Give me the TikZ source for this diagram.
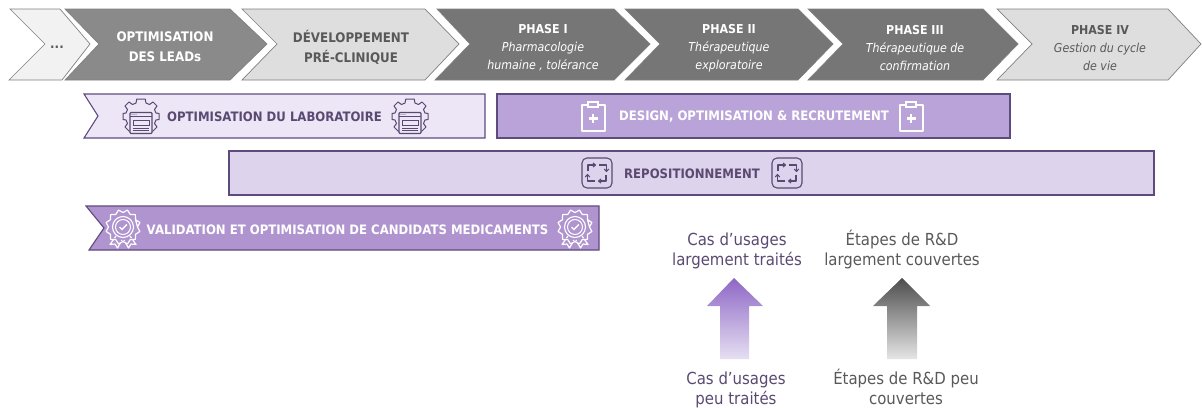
\documentclass[tikz,border=0pt]{standalone}
\usepackage{fontspec}
\setmainfont{DejaVu Sans}
\newfontfamily\tah[FakeStretch=0.9]{DejaVu Sans}
\usetikzlibrary{calc}
\definecolor{dk}{HTML}{767676}
\definecolor{md}{HTML}{8A8A8A}
\definecolor{lt}{HTML}{DEDEDE}
\definecolor{xl}{HTML}{F2F2F2}
\definecolor{edgeg}{HTML}{808080}
\definecolor{txg}{HTML}{595959}
\definecolor{pedge}{HTML}{5E4B7E}
\definecolor{plab}{HTML}{ECE6F6}
\definecolor{pdes}{HTML}{B9A3D8}
\definecolor{prep}{HTML}{DDD3EC}
\definecolor{pval}{HTML}{B094D0}
\definecolor{ptxt}{HTML}{5A4A72}
\definecolor{parr}{HTML}{8E67C6}
\definecolor{parl}{HTML}{E6DFF2}
\tikzset{
 x=1pt,y=-1pt,
 chev/.style={draw=edgeg,line width=.7pt,line join=miter},
 bar/.style={draw=pedge,line width=1.1pt},
 ttl/.style={font=\tah\bfseries\fontsize{13.2}{20}\selectfont,align=center,inner sep=0pt},
 phs/.style={font=\tah\fontsize{12.3}{18}\selectfont,align=center,inner sep=0pt},
 bartxt/.style={font=\tah\bfseries\fontsize{13}{15}\selectfont,inner sep=0pt},
 lbl/.style={font=\tah\fontsize{16.6}{20}\selectfont,align=center,inner sep=0pt},
 pics/gearic/.style n args={2}{code={
  \draw[#1,line width=1pt,line join=round,fill=#2]
   (-4.2,-16.5)--(4.2,-16.5)--(5,-12.5)--(8.5,-11)--(12,-13.5)--(16,-9.5)--(13.5,-6)--(15,-2.5)--(18,-2)--(18,4)--(15,4.5)--(13.5,8)--(16,11.5)--(12,15.5)--(-12,15.5)--(-16,11.5)--(-13.5,8)--(-15,4.5)--(-18,4)--(-18,-2)--(-15,-2.5)--(-13.5,-6)--(-16,-9.5)--(-12,-13.5)--(-8.5,-11)--(-5,-12.5)--cycle;
  \draw[#1,line width=1pt] (-9.5,0) arc[start angle=180,end angle=0,radius=9.5];
  \draw[#1,line width=1.1pt,fill=#2,rounded corners=1pt] (-11,-3) rectangle (11,18);
  \draw[#1,line width=1pt] (-11,1)--(11,1);
  \draw[#1,line width=1pt] (-8,4.5) rectangle (8,10);
  \draw[#1,line width=.9pt] (-8,12.5)--(8,12.5) (-8,15.2)--(8,15.2);
  \fill[#1] (-9,-1.1) circle(.5) (-7,-1.1) circle(.5) (-5,-1.1) circle(.5);
 }},
 pics/clipic/.style={code={
  \draw[white,line width=2pt,line join=round] (-5,-12)--(-11.5,-12)--(-11.5,14.5)--(11.5,14.5)--(11.5,-12)--(5,-12);
  \draw[white,line width=2pt] (-5,-9.5) rectangle (5,-15);
  \draw[white,line width=2.2pt] (-4.5,2)--(4.5,2) (0,-2.5)--(0,6.5);
 }},
 pics/repic/.style={code={
  \draw[ptxt,line width=1.1pt,rounded corners=5pt] (-15,-15) rectangle (15,15);
  \begin{scope}[ptxt,line width=1.1pt,line join=round]
   \draw (-9,-2)--(-9,-8)--(-2,-8); \draw (-4,-10)--(-1.5,-8)--(-4,-6);
   \draw (2,-8)--(9.5,-8)--(9.5,-2); \draw (7.3,-4)--(9.5,-1.5)--(11.7,-4);
   \draw (9,2)--(9,8)--(2,8); \draw (4,6)--(1.5,8)--(4,10);
   \draw (-2,8)--(-9.5,8)--(-9.5,2); \draw (-11.7,4)--(-9.5,1.5)--(-7.3,4);
  \end{scope}
 }},
 pics/medic/.style={code={
  \draw[white,line width=1.2pt,line join=round]
   (-7,9)--(-13,17.5)--(-8,17)--(-5.5,21)--(-1,13)
   (7,9)--(13,17.5)--(8,17)--(5.5,21)--(1,13);
  \draw[white,line width=1.2pt,fill=pval,line join=round]
   \foreach \a in {0,30,...,330}{ (\a:14.5) -- (\a+15:17.5) -- (\a+30:14.5) } -- cycle;
  \draw[white,line width=1.1pt] (0,0) circle(10.5);
  \draw[white,line width=1pt] (0,0) circle(7.5);
  \draw[white,line width=1.4pt] (-3.5,0)--(-1,2.5)--(3.8,-2.5);
 }}
}
\begin{document}
\begin{tikzpicture}
\useasboundingbox (0,0) rectangle (1202,407);
\fill[white] (0,0) rectangle (1202,407);
% chevrons
\draw[chev,fill=xl] (10,9)--(60,9)--(90,44)--(62,80)--(9,80)--(45,44)--cycle;
\draw[chev,fill=md] (65,9)--(230,9)--(267,44)--(230,80)--(65,80)--(99,44)--cycle;
\draw[chev,fill=lt] (242,9)--(425,9)--(459,44)--(425,80)--(242,80)--(277,44)--cycle;
\draw[chev,fill=dk] (437,9)--(614,9)--(650,44)--(614,80)--(435,80)--(470,44)--cycle;
\draw[chev,fill=dk] (625,9)--(798,9)--(833,44)--(798,80)--(625,80)--(660,44)--cycle;
\draw[chev,fill=dk] (808,9)--(983,9)--(1018,44)--(983,80)--(808,80)--(843,44)--cycle;
\draw[chev,fill=lt] (997,9)--(1168,9)--(1201,44)--(1168,80)--(997,80)--(1032,44)--cycle;
\node[ttl,text=txg] (dots) at (57,47) {...};
\node[ttl,text=white] (lead) at (165,47) {OPTIMISATION\\DES LEADs};
\node[ttl,text=txg] (dev) at (351,47) {DÉVELOPPEMENT\\PRÉ-CLINIQUE};
\node[phs,text=white] (p1) at (543,48) {\textbf{PHASE I}\\\textit{Pharmacologie}\\\textit{humaine , tolérance}};
\node[phs,text=white] (p2) at (729,48) {\textbf{PHASE II}\\\textit{Thérapeutique}\\\textit{exploratoire}};
\node[phs,text=white] (p3) at (915,48) {\textbf{PHASE III}\\\textit{Thérapeutique de}\\\textit{confirmation}};
\node[phs,text=txg] (p4) at (1100,48) {\textbf{PHASE IV}\\\textit{Gestion du cycle}\\\textit{de vie}};
% bars
\draw[bar,fill=plab] (84,94)--(485,94)--(485,138)--(84,138)--(98,116)--cycle;
\draw[bar,fill=pdes] (497,94) rectangle (1010,138);
\draw[bar,fill=prep] (229,151) rectangle (1154,195);
\draw[bar,fill=pval] (86,206)--(599,206)--(599,250)--(89,250)--(104,228)--cycle;
\node[bartxt,text=ptxt] (lab) at (274.5,117) {OPTIMISATION DU LABORATOIRE};
\node[bartxt,text=white] (des) at (754,117) {DESIGN, OPTIMISATION \& RECRUTEMENT};
\node[bartxt,text=ptxt] (rep) at (692,174) {REPOSITIONNEMENT};
\node[bartxt,text=white] (val) at (347.5,230) {VALIDATION ET OPTIMISATION DE CANDIDATS MEDICAMENTS};
\pic at (141,115.5) {gearic={ptxt}{plab}};
\pic at (410,115.5) {gearic={ptxt}{plab}};
\pic at (593,116.5) {clipic};
\pic at (911,116.5) {clipic};
\pic at (597,173) {repic};
\pic at (787,173) {repic};
\pic at (123,227) {medic};
\pic at (575,227) {medic};
% arrows
\shade[top color=parr,bottom color=parl] (734,278)--(763,306)--(749,306)--(749,359)--(720,359)--(720,306)--(707,306)--cycle;
\shade[top color=black!70,bottom color=black!10] (902,278)--(930,306)--(917,306)--(917,359)--(887,359)--(887,306)--(873,306)--cycle;
\node[lbl,text=ptxt] (a) at (737,251) {Cas d’usages\\largement traités};
\node[lbl,text=txg] (b) at (902,250) {Étapes de R\&D\\largement couvertes};
\node[lbl,text=ptxt] (c) at (736,390) {Cas d’usages\\peu traités};
\node[lbl,text=txg] (d) at (906,387) {Étapes de R\&D peu\\couvertes};
\end{tikzpicture}
\end{document}
